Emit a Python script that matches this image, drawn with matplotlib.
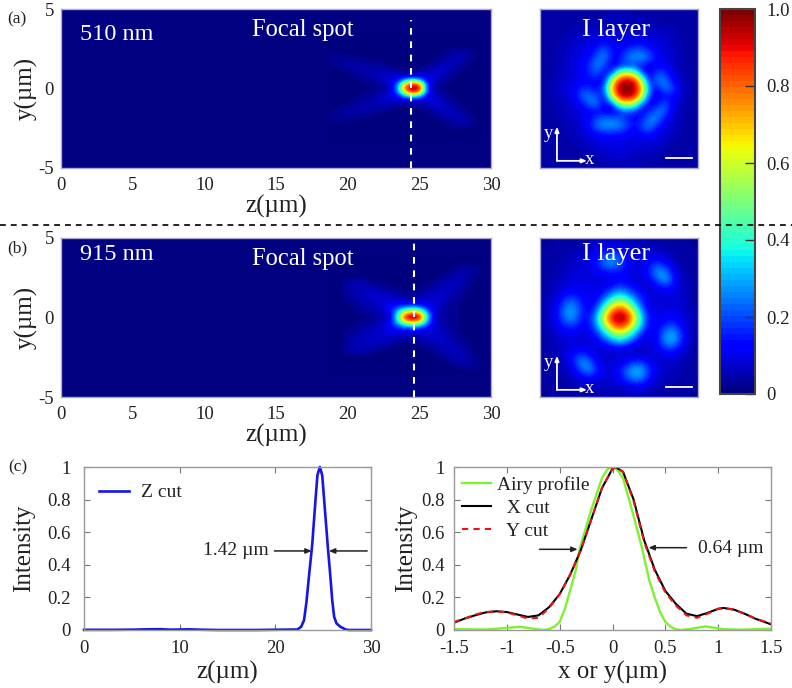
import numpy as np
import matplotlib
matplotlib.use("Agg")
import matplotlib.pyplot as plt
from matplotlib.lines import Line2D
from matplotlib import cm

plt.rcParams['font.family'] = ['Liberation Serif', 'DejaVu Serif']

W, H = 792, 688
TXT = '#222222'
EDGE = '#a9a9d6'

# Focal spot intensity (percent): rows y = 0, .25, .5 ... mirrored about y = 0; columns z = 19 ... 29 step .5
focal_z = np.arange(19, 29.01, 0.5)
focal_a = [
 [0,0,1,1,1,1,2,3,7,30,85,100,95,15,4,2,1,1,0,0,0],
 [0,0,1,1,1,2,3,5,8,25,70,88,78,14,6,3,1,1,0,0,0],
 [0,1,1,1,2,3,4,6,9,14,30,45,32,10,7,4,2,1,1,0,0],
 [1,1,1,2,3,4,5,7,8,8,9,10,9,9,9,6,3,2,1,0,0],
 [1,1,2,3,4,5,5,6,5,4,3,3,4,6,8,8,5,2,1,1,0],
 [1,2,3,4,4,4,4,4,2,2,1,1,2,3,5,7,6,4,2,1,0],
 [2,3,4,4,4,3,2,2,1,1,0,0,1,2,3,5,6,5,3,1,0],
 [3,3,3,3,2,2,1,1,0,0,0,0,0,1,2,3,5,6,4,2,1],
 [2,2,2,2,1,1,0,0,0,0,0,0,0,0,1,2,3,5,5,3,1],
 [1,1,1,0,0,0,0,0,0,0,0,0,0,0,0,1,2,3,4,3,1],
 [0,0,0,0,0,0,0,0,0,0,0,0,0,0,0,0,1,2,2,2,0],
 [0,0,0,0,0,0,0,0,0,0,0,0,0,0,0,0,0,0,0,0,0],
 [0,0,0,0,0,0,0,0,0,0,0,0,0,0,0,0,0,0,0,0,0],
]
focal_b = [
 [0,0,0,1,1,1,3,5,10,45,92,100,95,35,8,3,3,2,1,0,0],
 [0,0,1,1,2,3,4,6,12,38,70,80,72,30,8,4,3,2,1,0,0],
 [0,0,1,2,3,4,5,8,14,26,38,45,38,18,9,5,3,2,1,0,0],
 [0,1,1,3,4,5,6,8,11,14,15,18,14,10,8,6,3,2,1,0,0],
 [0,1,2,3,5,6,7,8,9,9,8,8,8,9,8,7,4,3,1,0,0],
 [0,1,3,4,6,6,7,7,7,6,4,4,5,6,7,7,5,3,2,0,0],
 [0,1,3,5,6,7,7,6,5,3,2,2,3,5,6,7,6,4,3,1,0],
 [0,1,4,5,6,6,5,4,3,2,1,1,2,3,5,6,6,5,3,2,0],
 [0,1,4,5,5,4,4,2,1,1,0,0,1,2,3,5,6,6,4,2,0],
 [0,1,3,4,4,2,1,1,0,0,0,0,0,1,2,4,5,6,5,3,1],
 [0,0,1,1,1,1,0,0,0,0,0,0,0,0,1,2,4,5,5,3,1],
 [0,0,0,0,0,0,0,0,0,0,0,0,0,0,0,1,2,4,5,4,2],
 [0,0,0,0,0,0,0,0,0,0,0,0,0,0,0,0,1,2,4,4,2],
 [0,0,0,0,0,0,0,0,0,0,0,0,0,0,0,0,0,1,2,2,1],
 [0,0,0,0,0,0,0,0,0,0,0,0,0,0,0,0,0,0,0,0,0],
]

# I layer intensity (percent), top row first
layer_a = [
 [4,4,4,4,4,4,4,4,4,5,6,5,4,4,4,4,4,4,4,4,4],
 [4,4,4,4,4,4,4,5,5,5,6,6,5,5,5,4,4,4,4,4,4],
 [4,4,4,4,5,5,6,6,6,7,7,7,7,6,6,6,5,5,4,4,4],
 [4,4,4,5,6,7,8,8,9,9,8,8,8,8,8,8,7,6,4,4,4],
 [4,4,5,6,7,8,9,11,14,11,10,11,12,12,10,9,8,6,5,4,4],
 [4,4,5,6,8,9,11,16,24,14,11,18,22,22,16,11,8,7,5,4,4],
 [4,4,5,7,9,10,13,23,26,13,14,24,28,28,22,12,9,7,5,4,4],
 [4,4,5,7,9,11,17,26,20,9,14,18,16,13,9,11,12,8,6,4,4],
 [4,4,5,7,8,11,16,22,11,20,55,65,55,20,9,22,18,10,6,4,4],
 [4,5,6,8,10,11,12,12,12,60,92,97,92,58,13,24,26,14,7,5,4],
 [4,5,7,9,11,17,17,11,24,72,97,100,97,70,24,11,26,20,9,5,4],
 [4,5,6,8,11,22,26,20,13,60,92,97,92,62,16,9,12,14,8,5,4],
 [4,4,5,7,9,13,23,26,10,18,55,65,55,22,9,14,22,11,7,4,4],
 [4,4,5,6,8,9,12,12,11,7,14,20,16,11,16,25,23,10,6,4,4],
 [4,4,5,6,7,9,12,20,24,24,23,16,12,15,26,26,13,8,5,4,4],
 [4,4,4,5,6,8,14,24,28,28,26,20,12,21,26,15,10,7,5,4,4],
 [4,4,4,5,6,7,9,12,14,14,14,11,10,13,14,10,8,6,5,4,4],
 [4,4,4,4,5,6,7,9,10,10,10,9,9,9,9,8,7,5,4,4,4],
 [4,4,4,4,4,5,6,7,8,9,9,9,8,7,7,6,5,4,4,4,4],
 [4,4,4,4,4,4,5,5,6,7,8,7,6,6,5,5,4,4,4,4,4],
 [4,4,4,4,4,4,4,4,5,5,5,5,5,4,4,4,4,4,4,4,4],
]
layer_b = [
 [3,3,4,4,4,4,5,6,7,7,7,6,5,5,4,4,4,4,4,3,3],
 [3,4,4,4,5,6,7,10,12,14,12,9,8,7,7,6,5,4,4,4,3],
 [4,4,4,5,6,7,9,14,22,25,22,12,9,9,9,10,8,6,4,4,4],
 [4,4,5,6,7,8,9,14,24,27,22,12,9,9,14,20,15,8,5,4,4],
 [4,4,5,7,8,8,9,11,13,15,13,11,9,10,17,28,27,14,6,4,4],
 [4,5,6,8,9,9,9,9,8,9,11,10,8,7,11,22,30,18,8,5,4],
 [4,5,7,9,10,10,10,9,10,15,20,17,12,8,7,11,15,12,8,5,4],
 [4,6,9,14,15,12,10,10,18,28,36,30,20,14,9,8,9,9,8,5,4],
 [5,7,12,22,24,15,10,14,30,50,60,52,32,16,9,8,8,9,8,6,4],
 [5,8,15,28,28,17,11,22,50,76,88,78,50,24,10,9,9,10,9,6,5],
 [5,8,15,27,27,15,13,32,64,92,100,94,66,32,13,10,11,12,10,7,5],
 [5,7,11,18,18,12,13,28,52,78,90,80,54,30,11,11,16,20,13,7,5],
 [4,6,9,11,11,9,10,18,34,52,62,54,34,17,9,12,25,30,20,8,5],
 [4,5,7,8,8,8,8,11,18,28,36,28,17,10,8,12,27,32,20,8,4],
 [4,5,6,8,9,10,10,8,9,10,12,10,8,7,8,11,18,20,12,6,4],
 [4,5,6,9,15,20,14,9,7,7,7,7,7,7,7,8,9,10,8,5,4],
 [4,4,5,8,16,28,25,12,8,8,9,14,20,20,12,8,7,7,6,4,4],
 [4,4,5,6,11,20,28,16,9,9,14,24,32,30,16,9,7,6,5,4,4],
 [3,4,4,5,7,9,12,10,8,8,12,20,27,25,13,8,6,5,4,4,3],
 [3,4,4,4,5,6,7,7,7,7,8,10,11,11,8,6,5,4,4,4,3],
 [3,3,4,4,4,4,4,5,5,5,5,6,6,6,5,4,4,4,4,3,3],
]

# Line profiles
zcut_z = [0,3,5,6.5,8,9,10,11,12,14,18,22.3,22.7,23,23.25,23.55,23.85,24.2,24.4,24.65,24.9,25.1,25.5,25.75,25.95,26.15,26.4,26.8,27.35,27.7,30]
zcut_i = [.001,.001,.002,.004,.005,.002,.003,.004,.002,0,0,.003,.02,.06,.17,.35,.52,.8,.95,1,.95,.8,.5,.33,.18,.08,.04,.02,.003,0,0]
xcut_x = [-1.5,-1.4,-1.3,-1.2,-1.1,-1.0,-.9,-.8,-.7,-.6,-.5,-.4,-.3,-.2,-.1,0,.03,.1,.2,.3,.4,.5,.6,.7,.8,.9,1.0,1.05,1.15,1.25,1.35,1.5]
xcut_i = [.045,.07,.09,.108,.115,.11,.095,.08,.09,.14,.22,.34,.49,.68,.87,.99,1,.97,.8,.55,.37,.24,.16,.10,.085,.105,.13,.135,.125,.10,.07,.035]
ycut_i = [.05,.07,.095,.11,.115,.108,.09,.07,.075,.135,.22,.34,.49,.68,.87,.99,1,.97,.79,.54,.36,.23,.15,.09,.075,.10,.13,.135,.125,.10,.07,.04]
airy_x = [-1.5,-1.2,-1.05,-.88,-.75,-.65,-.6,-.55,-.5,-.45,-.42,-.35,-.31,-.2,-.1,-.05,0,.05,.1,.2,.28,.35,.4,.45,.5,.55,.6,.65,.75,.88,1.05,1.2,1.5]
airy_i = [.005,.003,.01,.02,.008,0,.006,.02,.05,.13,.2,.36,.5,.74,.93,.985,1,.98,.93,.7,.5,.3,.2,.11,.05,.02,.004,0,.008,.022,.005,.002,.008]

cb_ticks = [0, .2, .4, .6, .8, 1.0]
cb_labels = ['0', '0.2', '0.4', '0.6', '0.8', '1.0']
z_ticks = [0, 5, 10, 15, 20, 25, 30]
y_ticks = [-5, 0, 5]
y_labels = ['-5', '0', '5']

jet = plt.get_cmap('jet', 64)


def axpx(x0, y0, x1, y1):
    return fig.add_axes([x0 / W, 1 - y1 / H, (x1 - x0) / W, (y1 - y0) / H])


fig = plt.figure(figsize=(W / 100, H / 100), dpi=100)


def focal_panel(box, rows, zline, ztop, name, tag, tag_y, name_y):
    ax = axpx(*box)
    top = np.array(rows) / 100
    grid = np.vstack([top[:0:-1], top])
    dy = 0.25 * (len(top) - 1)
    ax.set_facecolor(jet(0))
    ax.imshow(grid, cmap=jet, vmin=0, vmax=1, interpolation='bicubic', aspect='auto',
              extent=[focal_z[0] - .25, focal_z[-1] + .25, -dy - .125, dy + .125], zorder=1)
    ax.set_xlim(0, 30)
    ax.set_ylim(-5, 5)
    ax.set_xticks(z_ticks)
    ax.set_yticks(y_ticks)
    ax.set_yticklabels(y_labels)
    ax.tick_params(length=0, labelsize=13.5, labelcolor=TXT, pad=5)
    ax.tick_params(axis='x', pad=6.5)
    ax.set_xlabel('z(µm)', fontsize=18, color=TXT, va='center')
    ax.set_ylabel('y(µm)', fontsize=18, color=TXT, va='center')
    ax.xaxis.set_label_coords(.5, -38 / 159)
    ax.yaxis.set_label_coords(-35 / 430, .5)
    for s in ax.spines.values():
        s.set_color(EDGE)
        s.set_linewidth(1)
    ax.plot([zline, zline], [-5, ztop], color='white', ls=(0, (3.2, 3.2)), lw=1.5, zorder=3)
    ax.text(1.35, name_y, name, color='white', fontsize=17.5, va='center')
    ax.text(16.9, 3.67, 'Focal spot', color='white', fontsize=17.7, va='center', ha='center')
    fig.text(7 / W, 1 - tag_y / H, tag, fontsize=12.5, color=TXT, va='center')
    return ax


focal_panel((61, 9, 491, 168), focal_a, 24.4, 4.3, '510 nm', '(a)', 19, 3.42)
focal_panel((61, 238, 491, 397), focal_b, 24.65, 4.75, '915 nm', '(b)', 248, 3.98)


def layer_panel(box, rows, title_y):
    ax = axpx(*box)
    ax.imshow(np.array(rows) / 100, cmap=jet, vmin=0, vmax=1, interpolation='bicubic',
              aspect='auto', extent=[0, 1, 0, 1])
    ax.set_xticks([])
    ax.set_yticks([])
    for s in ax.spines.values():
        s.set_color(EDGE)
        s.set_linewidth(1)
    ax.text(.48, title_y, 'I layer', color='white', fontsize=19, ha='center', va='center')
    arrow = dict(arrowstyle='-|>,head_width=.12,head_length=.3', color='white', lw=1.3, shrinkA=0, shrinkB=0)
    ax.annotate('', xy=(.11, .26), xytext=(.11, .045), xycoords='axes fraction', arrowprops=arrow)
    ax.annotate('', xy=(.30, .045), xytext=(.11, .045), xycoords='axes fraction', arrowprops=arrow)
    ax.text(.055, .22, 'y', color='white', fontsize=13.5, ha='center', va='center')
    ax.text(.315, .055, 'x', color='white', fontsize=13.5, ha='center', va='center')
    ax.plot([.80, .96], [.065, .065], color='white', lw=1.3)
    ax.set_xlim(0, 1)
    ax.set_ylim(0, 1)


layer_panel((539.5, 9, 698, 168), layer_a, .868)
layer_panel((539.5, 238, 698, 397), layer_b, .898)

# Colorbar
cax = axpx(720, 9, 755, 394)
cb = fig.colorbar(cm.ScalarMappable(norm=plt.Normalize(0, 1), cmap=jet), cax=cax)
cb.set_ticks(cb_ticks)
cb.set_ticklabels(cb_labels)
cax.tick_params(direction='in', length=7, width=1, color='#333333', labelsize=13.5, labelcolor=TXT, pad=8)
cb.outline.set_edgecolor('#444444')
cb.outline.set_linewidth(1.5)


def style_line_axes(ax, ypad, ylab_x):
    for s in ax.spines.values():
        s.set_color('#9a9a9a')
        s.set_linewidth(1)
    ax.tick_params(direction='in', length=4, width=.8, color='#777777', labelsize=13.5,
                   labelcolor=TXT, top=True, right=True)
    ax.tick_params(axis='x', pad=7)
    ax.tick_params(axis='y', pad=ypad)
    ax.set_ylim(0, 1)
    ax.set_yticks([0, .2, .4, .6, .8, 1])
    ax.set_yticklabels(['0', '0.2', '0.4', '0.6', '0.8', '1'])
    ax.set_ylabel('Intensity', fontsize=18, color=TXT, va='center')
    ax.yaxis.set_label_coords(ylab_x, .5)


arr = dict(arrowstyle='-|>,head_width=.15,head_length=.35', color='#222222', lw=1.1, shrinkA=0, shrinkB=0)

# Z cut
ax1 = axpx(84, 467, 371, 630)
line_z, = ax1.plot(zcut_z, zcut_i, color='#1515e8', lw=1.9, clip_on=False)
ax1.set_xlim(0, 30)
ax1.set_xticks([0, 10, 20, 30])
style_line_axes(ax1, 9.5, -60 / 287)
ax1.set_xlabel('z(µm)', fontsize=18, color=TXT, va='center')
ax1.xaxis.set_label_coords(.5, -42 / 163)
ax1.legend([line_z], ['Z cut'], loc='upper left', frameon=False, fontsize=14, handlelength=1.55,
           handletextpad=.6, borderaxespad=0, borderpad=0, bbox_to_anchor=(.052, .897), labelcolor=TXT)
ax1.annotate('', xy=(23.8, .485), xytext=(19.9, .485), arrowprops=arr)
ax1.annotate('', xy=(25.6, .485), xytext=(29.6, .485), arrowprops=arr)
ax1.text(19.3, .49, '1.42 µm', fontsize=14, color=TXT, ha='right', va='center')

# Transverse cuts
ax2 = axpx(454, 467, 771, 630)
l_a, = ax2.plot(airy_x, airy_i, color='#80f030', lw=1.7)
l_x, = ax2.plot(xcut_x, xcut_i, color='black', lw=1.5)
l_y, = ax2.plot(xcut_x, ycut_i, color='#e8141c', lw=1.5, ls=(0, (3, 2.5)))
ax2.set_xlim(-1.5, 1.5)
ax2.set_xticks([-1.5, -1, -.5, 0, .5, 1, 1.5])
ax2.set_xticklabels(['-1.5', '-1', '-0.5', '0', '0.5', '1', '1.5'])
style_line_axes(ax2, 6.5, -48 / 317)
ax2.set_xlabel('x or y(µm)', fontsize=18, color=TXT, va='center')
ax2.xaxis.set_label_coords(.5, -42 / 163)
ax2.legend([l_a, l_x, l_y], ['Airy profile', '  X cut', '  Y cut'], loc='upper left', frameon=False,
           fontsize=14, handlelength=1.5, handletextpad=.3, labelspacing=.28, borderaxespad=0, borderpad=0,
           bbox_to_anchor=(.025, .945), labelcolor=TXT)
ax2.annotate('', xy=(-.33, .495), xytext=(-.69, .495), arrowprops=arr)
ax2.annotate('', xy=(.34, .505), xytext=(.70, .505), arrowprops=arr)
ax2.text(.81, .5, '0.64 µm', fontsize=14, color=TXT, va='center')

fig.text(8 / W, 1 - 467 / H, '(c)', fontsize=12.5, color=TXT, va='center')
fig.add_artist(Line2D([0, 1], [1 - 225 / H] * 2, color='black', lw=1.2, ls=(0, (3.5, 3)), transform=fig.transFigure))

fig.savefig('out.png', dpi=100)
